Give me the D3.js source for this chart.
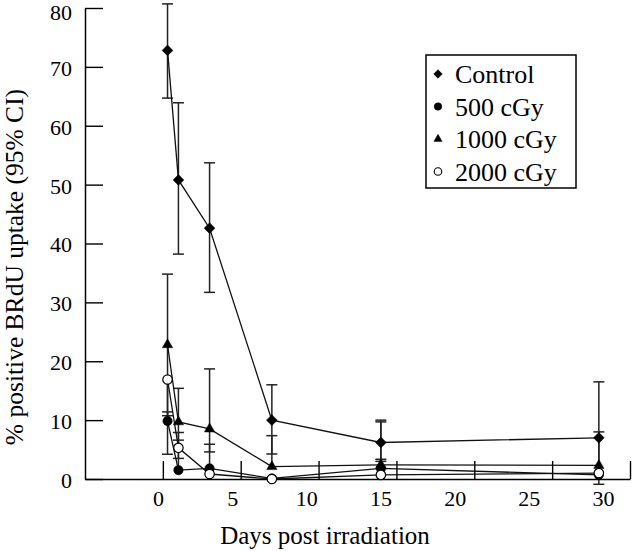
<!DOCTYPE html>
<html>
<head>
<meta charset="utf-8">
<script src="https://cdn.jsdelivr.net/npm/d3@7"></script>
<style>
  html, body { margin: 0; padding: 0; background: #fff; }
  svg { display: block; }
  svg text { font-family: "Liberation Serif", "Times New Roman", Tinos, "DejaVu Serif", serif !important; fill: #000; }
</style>
</head>
<body>
<svg id="chart" width="640" height="551"></svg>
<script>
// ---- data ----
const days = [0.3, 1, 3, 7, 14, 28];
const xTicks = [0, 5, 10, 15, 20, 25, 30];
const yTicks = [0, 10, 20, 30, 40, 50, 60, 70, 80];
const seriesNames = ["Control", "500 cGy", "1000 cGy", "2000 cGy"];

const controlVals = [72.8, 50.8, 42.6, 10.0, 6.2, 7.0];
const controlLo   = [64.7, 38.2, 31.7, 4.25, 3.35, -0.9];
const controlHi   = [80.7, 63.9, 53.7, 16.0, 10.0, 16.5];

const cGy500Vals = [9.85, 1.5, 1.8, 0.1, 1.8, 0.7];
const cGy500Lo   = [null, null, null, null, null, null];
const cGy500Hi   = [11.4, 6.6, 5.9, null, 3.0, null];

const cGy1000Vals = [22.8, 9.7, 8.5, 2.1, 2.4, 2.3];
const cGy1000Lo   = [4.2, 3.5, 4.6, null, null, null];
const cGy1000Hi   = [34.8, 15.4, 18.7, 7.36, 9.7, 8.0];

const cGy2000Vals = [16.9, 5.3, 0.85, 0.0, 0.7, 1.0];
const cGy2000Lo   = [10.75, null, null, null, null, null];
const cGy2000Hi   = [null, 7.9, null, null, null, null];

// ---- build series ----
function build(name, vals, lo, hi, symbol, fill) {
  return { name, symbol, fill,
    points: days.map((d, i) => ({ day: d, v: vals[i], lo: lo[i], hi: hi[i] })) };
}
const series = [
  build(seriesNames[0], controlVals, controlLo, controlHi, "diamond", "#000"),
  build(seriesNames[2], cGy1000Vals, cGy1000Lo, cGy1000Hi, "triangle", "#000"),
  build(seriesNames[1], cGy500Vals, cGy500Lo, cGy500Hi, "circle", "#000"),
  build(seriesNames[3], cGy2000Vals, cGy2000Lo, cGy2000Hi, "circle", "#fff")
];
const legendOrder = [0, 2, 1, 3].map(i => series[i]);

const FONT = '"Liberation Serif", "Times New Roman", Tinos, "DejaVu Serif", serif';

// ---- layout ----
const svg = d3.select("#chart");
const x = d3.scaleLinear().domain([-5, 30]).range([85, 630]);
const y = d3.scaleLinear().domain([0, 80]).range([479, 8]);
const xLabelScale = d3.scaleLinear().domain([0, 30]).range([158, 603]);

function symbolPath(kind, scale) {
  if (kind === "diamond") return d3.symbol(d3.symbolSquare, 58 * scale * scale)();
  if (kind === "triangle") return d3.symbol(d3.symbolTriangle, 46 * scale * scale)();
  return d3.symbol(d3.symbolCircle, 70 * scale * scale)();
}
function symbolTransform(kind, cx, cy) {
  return `translate(${cx},${cy})` + (kind === "diamond" ? " rotate(45)" : "");
}

// ---- axes ----
const yAxis = d3.axisLeft(y).tickValues(yTicks).tickSize(-18).tickSizeOuter(0).tickPadding(13);
const gy = svg.append("g").attr("transform", "translate(85,0)").call(yAxis);
gy.selectAll("text").attr("dy", "0.38em");
// keep the topmost label fully inside the page
gy.selectAll(".tick").filter(d => d === 80).select("text").attr("y", 3.5);

const xAxis = d3.axisBottom(x).tickValues(xTicks).tickSize(-18).tickSizeOuter(0).tickFormat("");
const gx = svg.append("g").attr("transform", "translate(0,479)").call(xAxis);

const xLabels = d3.axisBottom(xLabelScale).tickValues(xTicks).tickSize(0).tickPadding(11);
const gxl = svg.append("g").attr("transform", "translate(0,479)").call(xLabels);
gxl.select(".domain").remove();

[gy, gxl].forEach(g => {
  g.attr("font-family", FONT).attr("font-size", 22);
  g.selectAll("text").style("font-family", FONT).style("font-size", "22px");
});

[gy, gx].forEach(g => {
  g.selectAll(".domain").attr("stroke", "#000").attr("stroke-width", 1.5);
  g.selectAll(".tick line").attr("stroke", "#000").attr("stroke-width", 1.4);
});

// titles
svg.append("text")
  .attr("x", 325).attr("y", 544)
  .attr("text-anchor", "middle")
  .style("font-family", FONT)
  .style("font-size", "25px")
  .text("Days post irradiation");

svg.append("text")
  .attr("transform", "translate(22.5,267) rotate(-90)")
  .attr("text-anchor", "middle")
  .style("font-family", FONT)
  .style("font-size", "25.5px")
  .text("% positive BRdU uptake (95% CI)");

// ---- error bars ----
const eb = svg.append("g").attr("stroke", "#222").attr("stroke-width", 1.5).attr("fill", "none");
series.forEach(s => {
  s.points.forEach(p => {
    const cx = x(p.day);
    const top = p.hi != null ? p.hi : p.v;
    const bot = p.lo != null ? p.lo : p.v;
    if (top !== bot) {
      eb.append("line").attr("x1", cx).attr("x2", cx).attr("y1", y(top)).attr("y2", y(bot));
    }
    [p.hi, p.lo].forEach(c => {
      if (c != null) {
        eb.append("line").attr("x1", cx - 5.5).attr("x2", cx + 5.5).attr("y1", y(c)).attr("y2", y(c));
      }
    });
  });
});

// ---- lines ----
const line = d3.line().x(d => x(d.day)).y(d => y(d.v));
svg.append("g").selectAll("path").data(series).join("path")
  .attr("d", s => line(s.points))
  .attr("fill", "none").attr("stroke", "#111").attr("stroke-width", 1.3);

// ---- markers ----
series.forEach(s => {
  svg.append("g").selectAll("path").data(s.points).join("path")
    .attr("d", symbolPath(s.symbol, 1))
    .attr("transform", d => symbolTransform(s.symbol, x(d.day), y(d.v)))
    .attr("fill", s.fill)
    .attr("stroke", "#000")
    .attr("stroke-width", s.fill === "#fff" ? 1.2 : 0.5);
});

// ---- legend ----
const lg = svg.append("g");
lg.append("rect").attr("x", 426).attr("y", 55).attr("width", 150).attr("height", 133)
  .attr("fill", "#fff").attr("stroke", "#000").attr("stroke-width", 1.5);
legendOrder.forEach((s, i) => {
  const cy = 74 + i * 32.5;
  lg.append("path")
    .attr("d", symbolPath(s.symbol, 0.8))
    .attr("transform", symbolTransform(s.symbol, 438, cy))
    .attr("fill", s.fill).attr("stroke", "#000")
    .attr("stroke-width", s.fill === "#fff" ? 1.1 : 0.5);
  lg.append("text")
    .attr("x", 455).attr("y", cy + 9.3)
    .style("font-family", FONT)
    .style("font-size", "26px")
    .text(s.name);
});
</script>
</body>
</html>
